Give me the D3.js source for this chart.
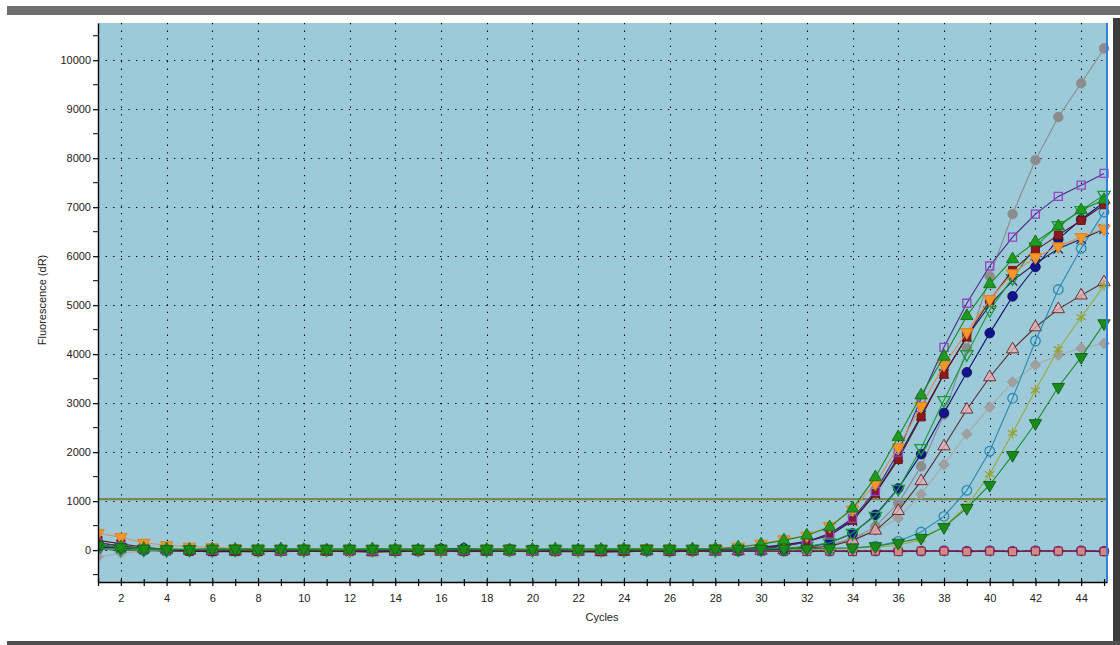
<!DOCTYPE html>
<html>
<head>
<meta charset="utf-8">
<script src="https://cdn.jsdelivr.net/npm/d3@7"></script>
<style>
    body { margin: 0; background: #fff; }
    text { font-family: "Liberation Sans", Arial, sans-serif; }
</style>
</head>
<body>
<div class="amp-plot__container"></div>
<script>
//data
const cycles = [1, 2, 3, 4, 5, 6, 7, 8, 9, 10, 11, 12, 13, 14, 15, 16, 17, 18, 19, 20, 21, 22, 23,
    24, 25, 26, 27, 28, 29, 30, 31, 32, 33, 34, 35, 36, 37, 38, 39, 40, 41, 42, 43, 44, 45];
const xLabelTicks = [2, 4, 6, 8, 10, 12, 14, 16, 18, 20, 22, 24, 26, 28, 30, 32, 34, 36, 38, 40, 42, 44];
const yTicks = [0, 1000, 2000, 3000, 4000, 5000, 6000, 7000, 8000, 9000, 10000];
const yMinorTicks = [-500, 500, 1500, 2500, 3500, 4500, 5500, 6500, 7500, 8500, 9500, 10500];
const threshold = 1040;

const flatPurple = [20, 0, -10, -10, -20, -10, -20, -10, -20, -10,
    -20, -10, -20, -10, -20, -10, -20, -10, -20, -10,
    -20, -10, -20, -10, -20, -10, -20, -10, -20, -10,
    -20, -10, -20, -10, -20, -10, -20, -10, -20, -10, -20, -10, -20, -10, -20];
const flatMaroon = [60, 20, 0, -20, -20, -30, -30, -30, -20, -20,
    -20, -30, -30, -20, -20, -20, -30, -20, -20, -20,
    -30, -30, -20, -30, -20, -30, -20, -20, -20, -20,
    -20, -30, -20, -30, -20, -30, -20, -20, -30, -20, -30, -20, -20, -20, -30];
const lightGrayDiamond = [-140, -60, -20, 0, 10, 0, 10, 0, 10, 0,
    10, 0, 10, 0, -10, 0, 10, 0, 10, 0,
    -10, 0, 10, 0, -10, 0, 10, 0, 10, 30,
    50, 80, 120, 245, 400, 650, 1140, 1750, 2370, 2920, 3430, 3780, 3980, 4120, 4220];
const grayOctagon = [80, 40, 20, 10, 0, 10, 0, -10, 0, 10,
    0, 10, 0, -10, 0, 20, 10, 0, 10, 0,
    -10, 0, 10, 0, -10, 0, 10, 0, 10, 20,
    40, 60, 100, 230, 480, 960, 1710, 2770, 4120, 5590, 6860, 7960, 8840, 9530, 10240];
const brownTriangle = [150, 90, 40, 10, -10, -20, -30, -20, -30, -20,
    -30, -20, -40, -30, -20, -30, -20, -30, -20, -30,
    -20, -30, -40, -30, -20, -30, -20, -30, -20, -10,
    0, 40, 80, 200, 400, 800, 1410, 2120, 2870, 3530, 4100, 4550, 4920, 5200, 5470];
const tealCircle = [50, 20, 10, 0, -10, 0, 10, 0, -10, 0,
    10, 0, -10, 0, 10, 0, -10, 0, 10, 0,
    -10, 0, 10, 0, -10, 0, 10, 0, 10, 10,
    10, 20, 30, 40, 80, 180, 370, 690, 1220, 2020, 3100, 4270, 5320, 6160, 6900];
const oliveStar = [30, 10, 0, 10, 0, -10, 0, 10, 0, -10,
    0, 10, 0, -10, 0, 10, 0, -10, 0, 10,
    0, -10, 0, 10, 0, -10, 0, 10, 0, 10,
    10, 20, 20, 40, 60, 100, 220, 480, 900, 1550, 2390, 3265, 4100, 4755, 5400];
const crossMark = [100, 50, 20, 10, 0, -10, 0, 10, 0, -10,
    0, 10, 0, -10, 0, 10, 0, -10, 0, 10,
    0, -10, 0, 10, 0, -10, 0, 10, 30, 60,
    110, 180, 300, 600, 1150, 1900, 2750, 3600, 4350, 5000, 5500, 5850, 6150, 6350, 6550];
const navyCircle = [60, 40, 20, 10, 0, 10, 0, -10, 0, 10,
    0, 10, 0, -10, 0, 30, 40, 10, 0, 10,
    0, -10, 0, 10, 0, -10, 0, 10, 0, 10,
    20, 60, 150, 340, 720, 1260, 1960, 2800, 3630, 4430, 5180, 5780, 6350, 6750, 7100];
const greenOpenDown = [40, 20, 10, 0, 10, 0, 10, 0, 10, 0,
    10, 0, 10, 0, 10, 0, 10, 0, 10, 0,
    10, 0, 10, 0, 10, 0, 10, 0, 10, 20,
    40, 80, 150, 350, 700, 1250, 2080, 3060, 4000, 4900, 5550, 6200, 6630, 6940, 7250];
const darkRedSquare = [200, 130, 60, 20, -20, -30, -20, -30, -20, -10,
    -20, -10, -30, -20, -10, 0, -20, -10, 20, -10,
    -20, -10, -30, -20, -10, -20, -10, 0, 20, 50,
    90, 170, 340, 610, 1160, 1850, 2720, 3590, 4350, 5100, 5710, 6120, 6430, 6730, 7050];
const purpleSquare = [150, 80, 40, 20, 10, 0, 10, 0, -10, 0,
    10, 0, -10, 0, 10, 0, 0, 10, 0, -10,
    0, -10, 0, 10, 0, 0, 10, 0, 10, 30,
    80, 160, 330, 650, 1200, 2000, 3100, 4140, 5040, 5800, 6390, 6860, 7220, 7450, 7690];
const orangeDown = [345, 265, 150, 100, 70, 60, 40, 30, 20, 30,
    20, 10, 20, 30, 20, 10, 20, 30, 20, 10,
    20, 10, 20, 30, 40, 30, 20, 40, 70, 130,
    220, 300, 490, 830, 1360, 2100, 2940, 3780, 4450, 5120, 5650, 5980, 6200, 6390, 6560];
const greenUp = [120, 60, 30, 20, 10, 20, 10, 0, 20, 10,
    0, 10, 20, 10, 0, 10, 20, 10, 0, 10,
    20, 0, 10, 20, 0, 10, 20, 30, 60, 120,
    200, 300, 470, 850, 1490, 2310, 3160, 3950, 4780, 5430, 5940, 6290, 6610, 6940, 7150];
const greenDown = [100, 60, 30, 20, 20, 30, 30, 30, 30, 30,
    30, 30, 30, 30, 30, 30, 20, 30, 30, 20,
    30, 30, 30, 30, 30, 30, 30, 30, 30, 30,
    30, 30, 40, 50, 80, 150, 250, 470, 860, 1330, 1940, 2590, 3330, 3940, 4630];

// looks of every well, drawn back to front
const series = [
    { values: flatPurple, line: '#5a2a8a', symbol: 'circle', fill: '#a060b0', stroke: '#602080' },
    { values: flatMaroon, line: '#7a1a3a', symbol: 'square', fill: '#d08a82', stroke: '#7a1a4a' },
    { values: lightGrayDiamond, line: '#a8a8a8', symbol: 'diamond', fill: '#a0a0a0', stroke: '#9a9a9a' },
    { values: grayOctagon, line: '#8c8c8c', symbol: 'circle', fill: '#8c8c8c', stroke: '#8c8c8c' },
    { values: brownTriangle, line: '#5a2a2a', symbol: 'triangle', fill: 'rgba(235,175,180,0.75)', stroke: '#6a2020' },
    { values: tealCircle, line: '#2a8ab0', symbol: 'circle', fill: 'none', stroke: '#2a8ab0' },
    { values: oliveStar, line: '#9aa83a', symbol: 'star', fill: 'none', stroke: '#98a030' },
    { values: crossMark, line: '#1a2050', symbol: 'x', fill: 'none', stroke: '#2a2a6a' },
    { values: navyCircle, line: '#101070', symbol: 'circle', fill: '#14148a', stroke: '#0a0a60' },
    { values: greenOpenDown, line: '#1a9a3a', symbol: 'down', fill: 'none', stroke: '#1a9a3a' },
    { values: darkRedSquare, line: '#5a1020', symbol: 'square', fill: '#8b1a1a', stroke: '#6a1010' },
    { values: purpleSquare, line: '#4a2a8a', symbol: 'square', fill: 'none', stroke: '#9a40c8' },
    { values: orangeDown, line: '#e08a50', symbol: 'down', fill: '#f5962a', stroke: '#e0801a' },
    { values: greenUp, line: '#1a8a1a', symbol: 'triangle', fill: '#1e9a1e', stroke: '#157015' },
    { values: greenDown, line: '#1a8a2a', symbol: 'down', fill: '#1a8a1a', stroke: '#106010' },
];

//d3 chart
const defineChart = () => {
    const width = 1120;
    const height = 645;
    const plot = { left: 98, right: 1107, top: 23, bottom: 582 };

    const xScale = d3.scaleLinear().domain([1, 45.13]).range([plot.left, plot.right]);
    const yScale = d3.scaleLinear().domain([-650, 10760]).range([plot.bottom, plot.top]);

    const svg = d3.select('.amp-plot__container')
        .append('svg')
        .attr('width', width)
        .attr('height', height)
        .style('display', 'block');

    // window frame
    svg.append('rect').attr('width', width).attr('height', height).attr('fill', '#fff');
    svg.append('rect').attr('x', 7).attr('y', 6).attr('width', width - 7).attr('height', 9).attr('fill', '#6e6e6e');
    svg.append('rect').attr('x', 1113).attr('y', 18).attr('width', 7).attr('height', height - 18).attr('fill', '#3c3c3c');
    svg.append('rect').attr('x', 7).attr('y', 641).attr('width', width - 7).attr('height', 4).attr('fill', '#505050');

    // plot background
    svg.append('rect')
        .attr('x', plot.left)
        .attr('y', plot.top)
        .attr('width', plot.right - plot.left + 1)
        .attr('height', plot.bottom - plot.top)
        .attr('fill', '#9dcad9');

    svg.append('clipPath').attr('id', 'plot-clip')
        .append('rect')
        .attr('x', plot.left)
        .attr('y', plot.top)
        .attr('width', plot.right - plot.left + 4)
        .attr('height', plot.bottom - plot.top);

    // dotted grid
    const grid = svg.append('g').attr('class', 'grid')
        .style('stroke', '#000')
        .style('stroke-width', 1.1)
        .style('stroke-dasharray', '1.3,6.3');
    grid.selectAll('.grid-x')
        .data(xLabelTicks)
        .enter()
        .append('line')
        .attr('x1', d => Math.round(xScale(d)) + 0.5)
        .attr('x2', d => Math.round(xScale(d)) + 0.5)
        .attr('y1', plot.top)
        .attr('y2', plot.bottom);
    grid.selectAll('.grid-y')
        .data(yTicks)
        .enter()
        .append('line')
        .attr('x1', plot.left)
        .attr('x2', plot.right)
        .attr('y1', d => Math.round(yScale(d)) + 0.5)
        .attr('y2', d => Math.round(yScale(d)) + 0.5);

    // threshold line
    svg.append('line')
        .attr('x1', plot.left)
        .attr('x2', plot.right)
        .attr('y1', yScale(threshold))
        .attr('y2', yScale(threshold))
        .style('stroke', '#7b8652')
        .style('stroke-width', 2.2);

    // curves
    const lineGenerator = d3.line()
        .x((d, i) => xScale(cycles[i]))
        .y(d => yScale(d));

    const symbolTimes = d3.symbolTimes || d3.symbolCross;
    const symbolStar = d3.symbolAsterisk || d3.symbolStar;
    const symbolPath = {
        square: d3.symbol().type(d3.symbolSquare).size(64)(),
        circle: d3.symbol().type(d3.symbolCircle).size(72)(),
        diamond: d3.symbol().type(d3.symbolSquare).size(56)(),
        triangle: d3.symbol().type(d3.symbolTriangle).size(66)(),
        down: d3.symbol().type(d3.symbolTriangle).size(66)(),
        x: d3.symbol().type(symbolTimes).size(60)(),
        star: d3.symbol().type(symbolStar).size(80)(),
    };
    const symbolTurn = { down: ' rotate(180)', diamond: ' rotate(45)' };

    const chartGroup = svg.append('g')
        .attr('class', 'amp-chart')
        .attr('clip-path', 'url(#plot-clip)');

    const seriesGroups = chartGroup.selectAll('.amp-series')
        .data(series)
        .enter()
        .append('g')
        .attr('class', 'amp-series');

    seriesGroups.append('path')
        .attr('d', d => lineGenerator(d.values))
        .style('fill', 'none')
        .style('stroke', d => d.line)
        .style('stroke-width', 1.1);

    seriesGroups.each(function (s) {
        d3.select(this)
            .selectAll('.marker')
            .data(s.values)
            .enter()
            .append('path')
            .attr('class', 'marker')
            .attr('d', symbolPath[s.symbol])
            .attr('transform', (d, i) => `translate(${xScale(cycles[i])},${yScale(d)})${symbolTurn[s.symbol] || ''}`)
            .style('fill', s.fill)
            .style('stroke', s.stroke)
            .style('stroke-width', s.fill === 'none' ? 1.3 : 0.9);
    });

    // blue cursor line at the right edge
    svg.append('line')
        .attr('x1', plot.right)
        .attr('x2', plot.right)
        .attr('y1', plot.top)
        .attr('y2', plot.bottom)
        .style('stroke', '#3080dc')
        .style('stroke-width', 2);

    // y axis
    const yAxis = d3.axisLeft(yScale)
        .tickValues(yTicks)
        .tickFormat(d3.format('d'))
        .tickSizeInner(5)
        .tickSizeOuter(0)
        .tickPadding(2);
    const yAxisDraw = svg.append('g')
        .attr('class', 'y-axis')
        .attr('transform', `translate(${plot.left},0)`)
        .call(yAxis);
    yAxisDraw.selectAll('.minor')
        .data(yMinorTicks)
        .enter()
        .append('line')
        .attr('x1', -5)
        .attr('x2', 0)
        .attr('y1', d => yScale(d))
        .attr('y2', d => yScale(d))
        .style('stroke', '#000');

    // x axis
    const xAxis = d3.axisBottom(xScale)
        .tickValues(cycles)
        .tickFormat(d => (d % 2 === 0 ? d : ''))
        .tickSizeInner(4)
        .tickSizeOuter(0)
        .tickPadding(8);
    const xAxisDraw = svg.append('g')
        .attr('class', 'x-axis')
        .attr('transform', `translate(0,${plot.bottom})`)
        .call(xAxis);
    xAxisDraw.selectAll('.tick line').attr('y1', -3);

    [yAxisDraw, xAxisDraw].forEach(axis => {
        axis.select('.domain').style('stroke', '#000').style('stroke-width', 1.4);
        axis.selectAll('.tick line').style('stroke', '#000').style('stroke-width', 1.2);
        axis.selectAll('text')
            .style('font-size', '11px')
            .style('fill', '#222')
            .style('font-family', '"Liberation Sans", Arial, sans-serif');
    });

    // axis titles
    svg.append('text')
        .attr('x', 602)
        .attr('y', 621)
        .attr('text-anchor', 'middle')
        .style('font-size', '11px')
        .style('fill', '#222')
        .text('Cycles');
    svg.append('text')
        .attr('transform', 'translate(46,300) rotate(-90)')
        .attr('text-anchor', 'middle')
        .style('font-size', '11px')
        .style('fill', '#222')
        .text('Fluorescence (dR)');
}

defineChart();
</script>
</body>
</html>
